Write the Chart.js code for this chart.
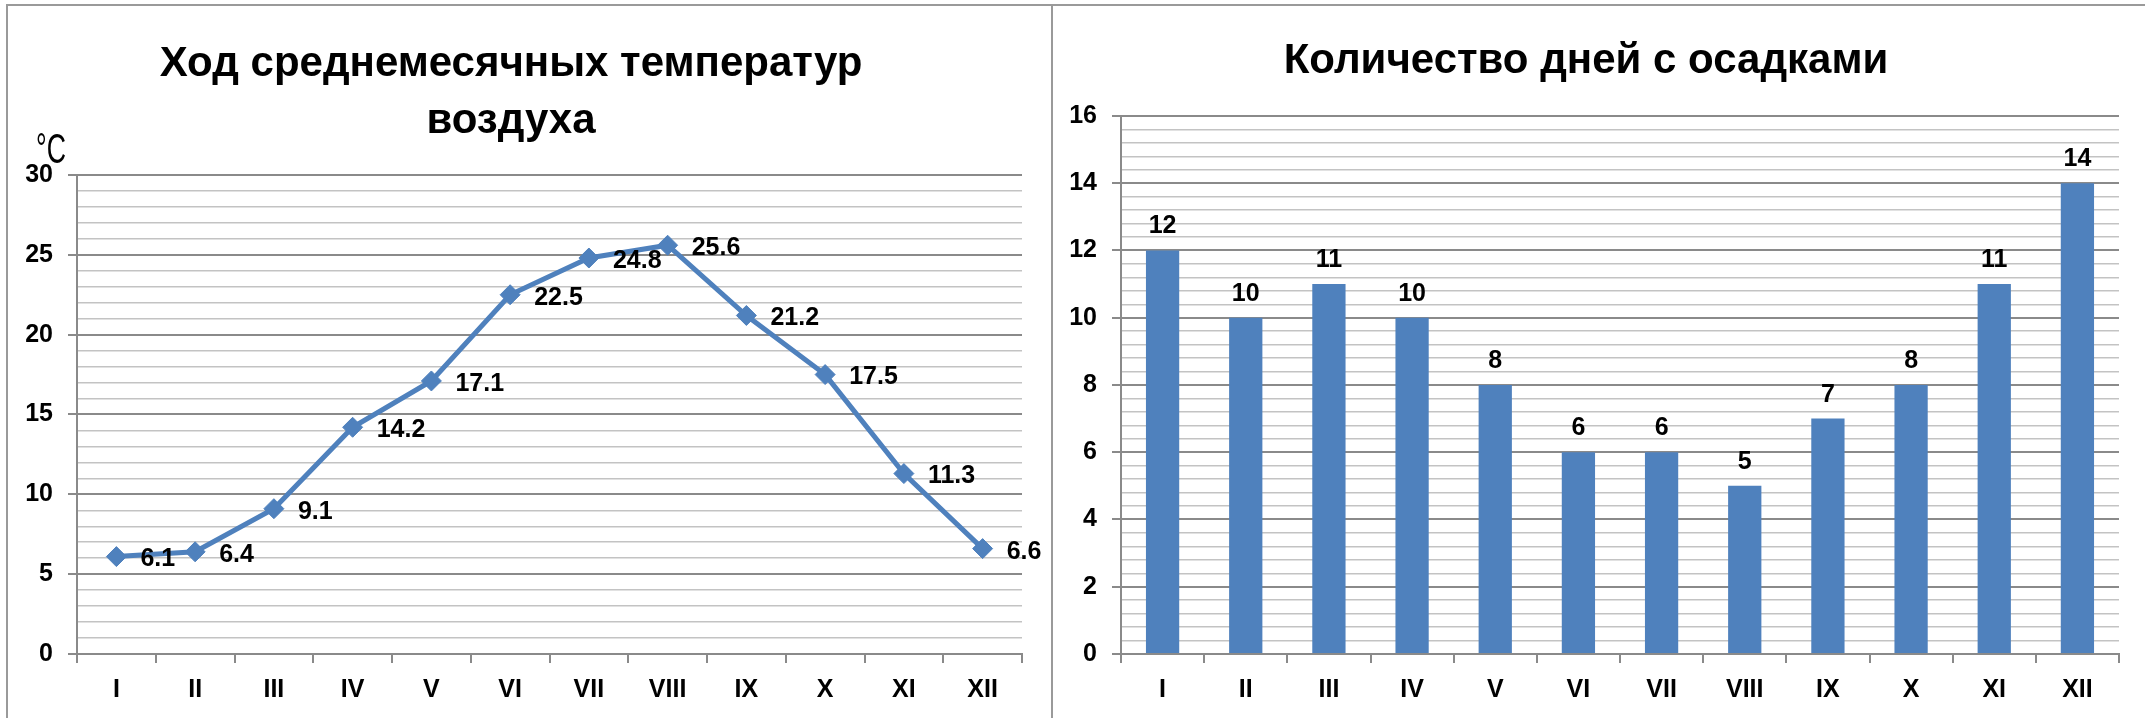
<!DOCTYPE html>
<html>
<head>
<meta charset="utf-8">
<script src="https://cdn.jsdelivr.net/npm/chart.js"></script>
<style>
    body { margin: 0; background: #fff; }
    #wrap { position: relative; width: 2145px; height: 718px; overflow: hidden; background: #fff; }
    .line { position: absolute; background: #9a9a9a; }
    canvas { position: absolute; }
</style>
</head>
<body>
<div id="wrap">
    <div class="line" style="left:7px; top:4px; width:2138px; height:2px;"></div>
    <div class="line" style="left:6px; top:4px; width:2px; height:714px;"></div>
    <div class="line" style="left:1051px; top:4px; width:2px; height:714px;"></div>
    <canvas id="tempChart" style="left:0; top:0;"></canvas>
    <canvas id="rainChart" style="left:1053px; top:0;"></canvas>
</div>
<script>
// months and values
const months = ['I', 'II', 'III', 'IV', 'V', 'VI', 'VII', 'VIII', 'IX', 'X', 'XI', 'XII'];
const temperatures = [6.1, 6.4, 9.1, 14.2, 17.1, 22.5, 24.8, 25.6, 21.2, 17.5, 11.3, 6.6];
const rainyDays = [12, 10, 11, 10, 8, 6, 6, 5, 7, 8, 11, 14];

const tempTitle = ['Ход среднемесячных температур', 'воздуха'];
const rainTitle = 'Количество дней с осадками';
const tempUnit = '°C';

const FONT = "'Liberation Sans', Arial, sans-serif";
const BLUE = '#4f81bd';
const MAJOR = '#8a8a8a';
const MINOR = '#c3c3c3';

function isMajor(v, step) {
    const q = v / step;
    return Math.abs(q - Math.round(q)) < 1e-6;
}

// y axis with minor grid lines, labels only on the major ones
function makeY(max, minorStep, majorStep, width, pad) {
    return {
        min: 0,
        max: max,
        afterFit: function (scale) { scale.width = width; },
        border: { color: MAJOR, width: 2 },
        grid: {
            color: ctx => isMajor(ctx.tick.value, majorStep) ? MAJOR : MINOR,
            lineWidth: ctx => isMajor(ctx.tick.value, majorStep) ? 2 : 1.5,
            tickColor: ctx => isMajor(ctx.tick.value, majorStep) ? MAJOR : 'rgba(0,0,0,0)',
            tickLength: 9
        },
        ticks: {
            stepSize: minorStep,
            autoSkip: false,
            maxTicksLimit: 1000,
            padding: pad,
            color: '#000',
            font: { family: FONT, size: 25, weight: 'bold' },
            callback: v => isMajor(v, majorStep) ? String(Math.round(v)) : ''
        }
    };
}

function makeX() {
    return {
        offset: true,
        afterFit: function (scale) { scale.height = 50; },
        border: { color: MAJOR, width: 2 },
        grid: { display: true, drawOnChartArea: false, color: MAJOR, lineWidth: 2, tickLength: 9, offset: true },
        ticks: {
            padding: 12,
            color: '#000',
            font: { family: FONT, size: 25, weight: 'bold' }
        }
    };
}

// data labels drawn next to each element
const valueLabels = {
    id: 'valueLabels',
    afterDatasetsDraw(chart, args, opts) {
        const ctx = chart.ctx;
        const meta = chart.getDatasetMeta(0);
        const data = chart.data.datasets[0].data;
        ctx.save();
        ctx.fillStyle = '#000';
        ctx.font = 'bold 25px ' + FONT;
        meta.data.forEach((el, i) => {
            const txt = opts.digits ? data[i].toFixed(opts.digits) : String(data[i]);
            if (opts.mode === 'right') {
                ctx.textAlign = 'left';
                ctx.textBaseline = 'middle';
                ctx.fillText(txt, el.x + 24, el.y + 3);
            } else {
                ctx.textAlign = 'center';
                ctx.textBaseline = 'alphabetic';
                ctx.fillText(txt, el.x, el.y - 17);
            }
        });
        ctx.restore();
    }
};

// unit text above the y axis (narrow, like the original)
const unitLabel = {
    id: 'unitLabel',
    afterDraw(chart, args, opts) {
        if (!opts.text) return;
        const ctx = chart.ctx;
        const a = chart.chartArea;
        ctx.save();
        ctx.fillStyle = '#000';
        ctx.font = '43px ' + FONT;
        ctx.textAlign = 'left';
        ctx.textBaseline = 'alphabetic';
        ctx.translate(a.left - 41, a.top - 12);
        ctx.scale(0.62, 1);
        ctx.fillText(opts.text, 0, 0);
        ctx.restore();
    }
};

function titleOpts(text, top, bottom) {
    return {
        display: true,
        text: text,
        color: '#000',
        font: { family: FONT, size: 42, weight: 'bold', lineHeight: 1.357 },
        padding: { top: top, bottom: bottom }
    };
}

document.addEventListener('DOMContentLoaded', function () {
    const tempCanvas = document.getElementById('tempChart');
    tempCanvas.width = 1051;
    tempCanvas.height = 718;
    const rainCanvas = document.getElementById('rainChart');
    rainCanvas.width = 1092;
    rainCanvas.height = 718;

    new Chart(tempCanvas.getContext('2d'), {
        type: 'line',
        data: {
            labels: months,
            datasets: [{
                data: temperatures,
                borderColor: BLUE,
                backgroundColor: BLUE,
                borderWidth: 5,
                pointStyle: 'rectRot',
                pointRadius: 10,
                pointBorderWidth: 1,
                tension: 0
            }]
        },
        options: {
            responsive: false,
            animation: false,
            layout: { padding: { left: 0, right: 29, bottom: 14, top: 0 } },
            scales: {
                x: makeX(),
                y: makeY(30, 1, 5, 77, 15)
            },
            plugins: {
                legend: { display: false },
                tooltip: { enabled: false },
                title: titleOpts(tempTitle, 36, 25),
                valueLabels: { mode: 'right', digits: 1 },
                unitLabel: { text: tempUnit }
            }
        },
        plugins: [valueLabels, unitLabel]
    });

    new Chart(rainCanvas.getContext('2d'), {
        type: 'bar',
        data: {
            labels: months,
            datasets: [{
                data: rainyDays,
                backgroundColor: BLUE,
                borderWidth: 0,
                categoryPercentage: 1,
                barPercentage: 0.4
            }]
        },
        options: {
            responsive: false,
            animation: false,
            layout: { padding: { left: 0, right: 26, bottom: 14, top: 0 } },
            scales: {
                x: makeX(),
                y: makeY(16, 0.4, 2, 68, 15)
            },
            plugins: {
                legend: { display: false },
                tooltip: { enabled: false },
                title: titleOpts(rainTitle, 33, 26),
                valueLabels: { mode: 'top' },
                unitLabel: { text: '' }
            }
        },
        plugins: [valueLabels, unitLabel]
    });
});
</script>
</body>
</html>
